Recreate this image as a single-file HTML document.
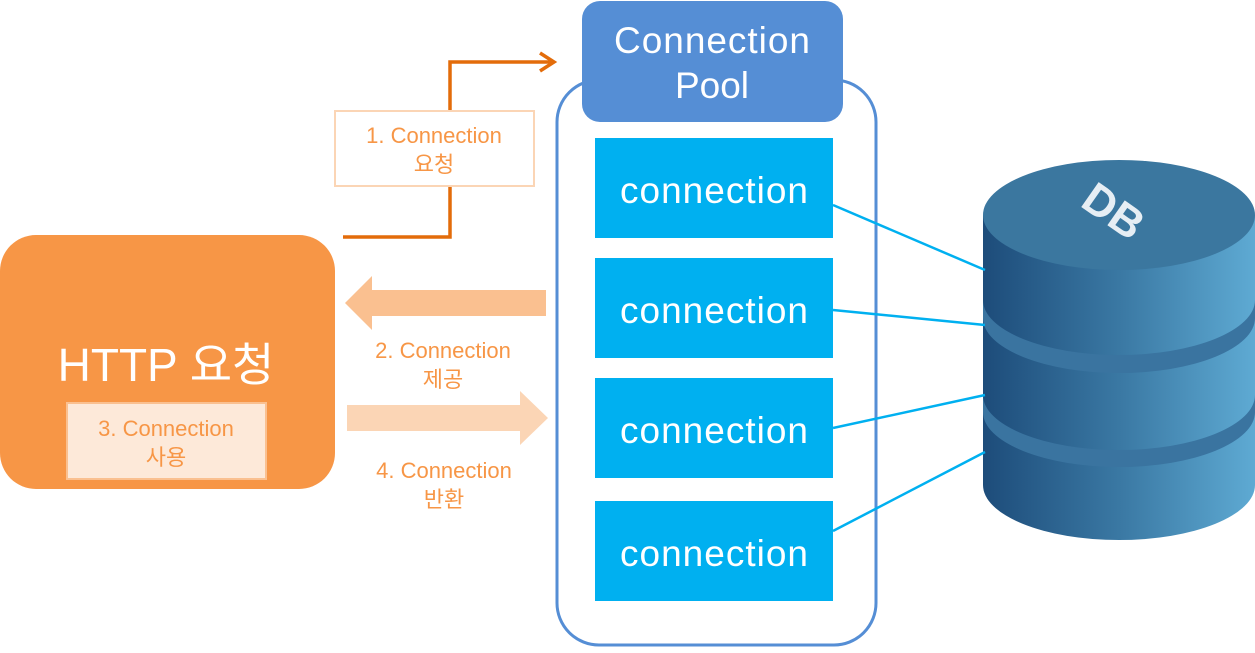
<!DOCTYPE html>
<html><head><meta charset="utf-8"><style>
body{margin:0;background:#fff;width:1255px;height:648px;overflow:hidden}
svg text{font-family:"Liberation Sans","Noto Sans CJK KR",sans-serif}
</style></head><body>
<svg width="1255" height="648" viewBox="0 0 1255 648" xmlns="http://www.w3.org/2000/svg">
<defs>
<linearGradient id="side" x1="0" x2="1" y1="0" y2="0">
<stop offset="0" stop-color="#1d4c7a"/><stop offset="0.5" stop-color="#3a78a3"/><stop offset="1" stop-color="#5eaad3"/>
</linearGradient>
</defs>
<polyline points="343,237 450,237 450,62 553,62" fill="none" stroke="#e36c0a" stroke-width="3.5"/>
<polyline points="540,53 554,62 540,71" fill="none" stroke="#e36c0a" stroke-width="3.5"/>
<rect x="335" y="111" width="199" height="75" fill="#fff" stroke="#fbd5b5" stroke-width="2"/>
<text x="434" y="143" font-size="22" fill="#f79646" text-anchor="middle">1. Connection</text>
<text x="434" y="172" font-size="22" fill="#f79646" text-anchor="middle">요청</text>
<polygon points="546,290 372,290 372,276 345,303 372,330 372,316 546,316" fill="#fac090"/>
<text x="443" y="358" font-size="22" fill="#f79646" text-anchor="middle">2. Connection</text>
<text x="443" y="387" font-size="22" fill="#f79646" text-anchor="middle">제공</text>
<polygon points="347,405 520,405 520,391 548,418 520,445 520,431 347,431" fill="#fbd5b5"/>
<text x="444" y="478" font-size="22" fill="#f79646" text-anchor="middle">4. Connection</text>
<text x="444" y="507" font-size="22" fill="#f79646" text-anchor="middle">반환</text>
<rect x="0" y="235" width="335" height="254" rx="36" fill="#f79646"/>
<text x="166" y="381" font-size="46" fill="#fff" text-anchor="middle">HTTP 요청</text>
<rect x="67" y="403" width="199" height="76" fill="#fde9d9" stroke="#fac090" stroke-width="2"/>
<text x="166" y="436" font-size="22" fill="#f79646" text-anchor="middle">3. Connection</text>
<text x="166" y="465" font-size="22" fill="#f79646" text-anchor="middle">사용</text>
<rect x="557" y="80" width="319" height="565" rx="42" fill="#fff" stroke="#558ed5" stroke-width="3"/>
<rect x="582" y="1" width="261" height="121" rx="18" fill="#558ed5"/>
<text x="712" y="53" font-size="37" fill="#fff" text-anchor="middle" textLength="196">Connection</text>
<text x="712" y="98" font-size="37" fill="#fff" text-anchor="middle">Pool</text>
<g fill="#00b0f0">
<rect x="595" y="138" width="238" height="100"/>
<rect x="595" y="258" width="238" height="100"/>
<rect x="595" y="378" width="238" height="100"/>
<rect x="595" y="501" width="238" height="100"/>
</g>
<g font-size="37" fill="#fff" text-anchor="middle">
<text x="714" y="203" textLength="188">connection</text>
<text x="714" y="323" textLength="188">connection</text>
<text x="714" y="443" textLength="188">connection</text>
<text x="714" y="566" textLength="188">connection</text>
</g>
<path d="M983,215 L983,485 A136,55 0 0 0 1255,485 L1255,215 Z" fill="url(#side)"/>
<path d="M983,300 A136,55 0 0 0 1255,300 L1255,318 A136,55 0 0 1 983,318 Z" fill="#3a74a0"/>
<path d="M983,395 A136,55 0 0 0 1255,395 L1255,412 A136,55 0 0 1 983,412 Z" fill="#3a74a0"/>
<ellipse cx="1119" cy="215" rx="136" ry="55" fill="#3b779f"/>
<text x="1113" y="226" font-size="44" font-weight="bold" fill="#e6eef4" text-anchor="middle" transform="rotate(35 1113 212)">DB</text>
<g stroke="#00b0f0" stroke-width="2.5">
<line x1="833" y1="205" x2="985" y2="270"/>
<line x1="833" y1="310" x2="985" y2="325"/>
<line x1="833" y1="428" x2="985" y2="395"/>
<line x1="833" y1="531" x2="985" y2="452"/>
</g>
</svg>
</body></html>
